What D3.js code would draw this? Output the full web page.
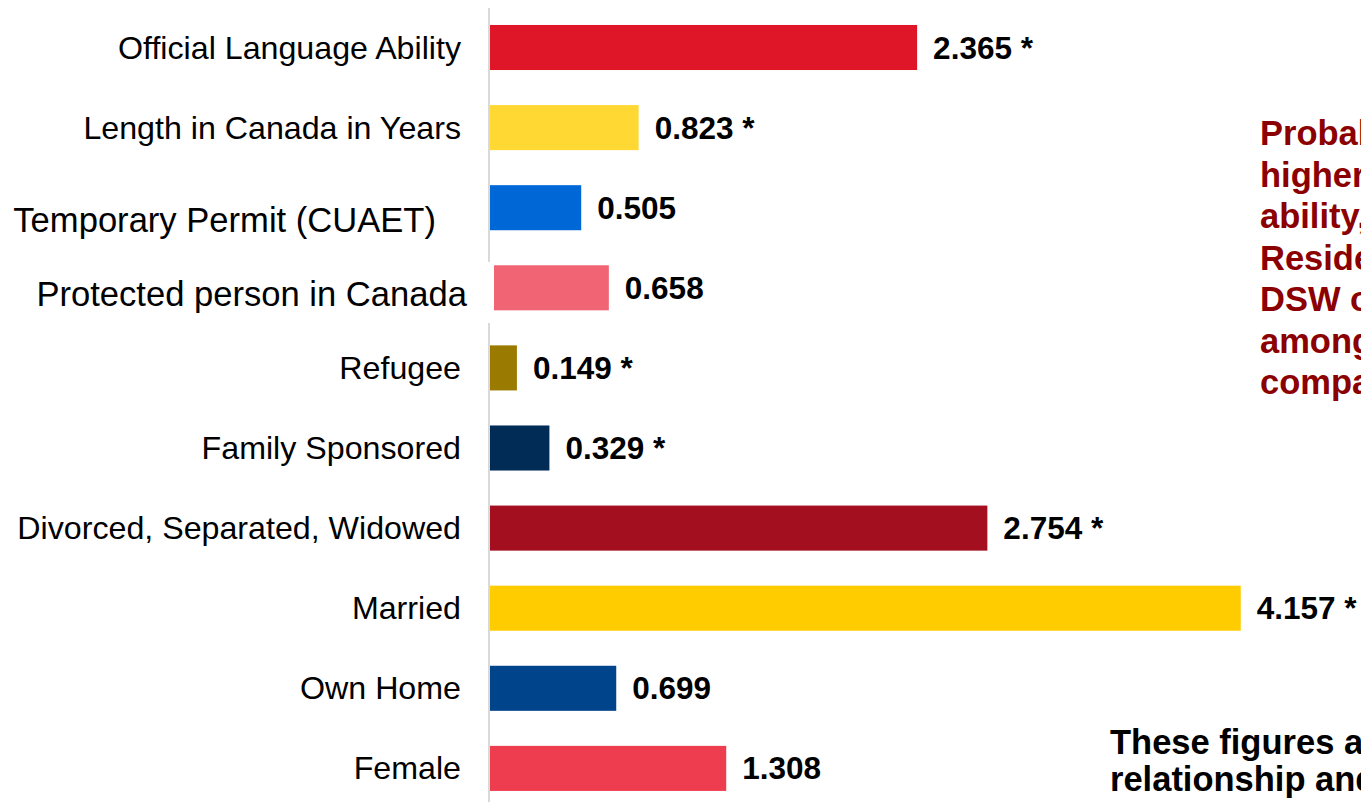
<!DOCTYPE html>
<html>
<head>
<meta charset="utf-8">
<script src="https://cdn.jsdelivr.net/npm/d3@7"></script>
<style>
  body { margin: 0; background: #fff; overflow: hidden; }
  svg { display: block; font-family: Arial, "Liberation Sans", sans-serif; }
</style>
</head>
<body>
<div id="chart"></div>
<script>
// setting up constants
const FRAME_WIDTH = 1361;
const FRAME_HEIGHT = 802;

// chart data
const categories = ["Official Language Ability", "Length in Canada in Years", "Temporary Permit (CUAET)",
    "Protected person in Canada", "Refugee", "Family Sponsored", "Divorced, Separated, Widowed",
    "Married", "Own Home", "Female"];
const values = [2.365, 0.823, 0.505, 0.658, 0.149, 0.329, 2.754, 4.157, 0.699, 1.308];
const significant = [true, true, false, false, true, true, true, true, false, false];
const colors = ["#DF1528", "#FFD834", "#0068D6", "#F06473", "#9A7A00", "#002C55",
    "#A30F1F", "#FFCC00", "#00458C", "#EE3D4F"];

const noteLines = ["Probability of", "higher", "ability,", "Residents", "DSW or", "among", "compared"];
const footLines = ["These figures are", "relationship and"];

const data = categories.map((c, i) => ({cat: c, value: values[i], sig: significant[i], color: colors[i]}));

const FRAME = d3.select("#chart")
    .append("svg")
        .attr("width", FRAME_WIDTH)
        .attr("height", FRAME_HEIGHT);

// scales
const xScale = d3.scaleLinear()
    .domain([0, 1])
    .range([490, 490 + 180.6]);

const yScale = d3.scaleBand()
    .domain(categories)
    .range([7.45, 808.45])
    .paddingInner(0.4375)
    .paddingOuter(0.21875);

// vertical axis line, broken around the "Protected person" row
const axisSegments = [[8, 262], [323, 802]];
FRAME.selectAll(".axisline")
    .data(axisSegments)
    .enter()
    .append("line")
        .attr("x1", 489).attr("x2", 489)
        .attr("y1", d => d[0]).attr("y2", d => d[1])
        .attr("stroke", "#d9d9d9")
        .attr("stroke-width", 2);

// the "Protected person" bar starts a few pixels right of the axis
function barStart(d) {
    return d.cat === "Protected person in Canada" ? xScale(0) + 4 : xScale(0);
}

// bars
FRAME.selectAll(".bar")
    .data(data)
    .enter()
    .append("rect")
        .attr("x", d => barStart(d))
        .attr("y", d => yScale(d.cat))
        .attr("width", d => xScale(d.value) - barStart(d))
        .attr("height", yScale.bandwidth())
        .attr("fill", d => d.color);

// value labels
FRAME.selectAll(".val")
    .data(data)
    .enter()
    .append("text")
        .attr("x", d => xScale(d.value) + 16)
        .attr("y", d => yScale(d.cat) + yScale.bandwidth() / 2 + 11)
        .attr("font-size", 31.5)
        .attr("font-weight", "bold")
        .attr("fill", "#000")
        .text(d => d.value.toFixed(3) + (d.sig ? " *" : ""));

// category labels (two of them sit a little off the others)
const labelShift = {
    "Temporary Permit (CUAET)": {x: 436, dy: 13, size: 34.6},
    "Protected person in Canada": {x: 467, dy: 7, size: 34.6}
};
FRAME.selectAll(".lab")
    .data(data)
    .enter()
    .append("text")
        .attr("x", d => labelShift[d.cat] ? labelShift[d.cat].x : 461)
        .attr("y", d => yScale(d.cat) + yScale.bandwidth() / 2 + 11 + (labelShift[d.cat] ? labelShift[d.cat].dy : 0))
        .attr("text-anchor", "end")
        .attr("font-size", d => labelShift[d.cat] ? labelShift[d.cat].size : 32.2)
        .attr("fill", "#000")
        .text(d => d.cat);

// note on the right, cut by the edge
FRAME.append("g")
    .selectAll("text")
    .data(noteLines)
    .enter()
    .append("text")
        .attr("x", 1260)
        .attr("y", (d, i) => 145 + i * 41.5)
        .attr("font-size", 34.5)
        .attr("font-weight", "bold")
        .attr("fill", "#8B0000")
        .text(d => d);

// footnote at the bottom right
FRAME.append("g")
    .selectAll("text")
    .data(footLines)
    .enter()
    .append("text")
        .attr("x", 1110)
        .attr("y", (d, i) => 754 + i * 37)
        .attr("font-size", 34.5)
        .attr("font-weight", "bold")
        .attr("fill", "#000")
        .text(d => d);
</script>
</body>
</html>
